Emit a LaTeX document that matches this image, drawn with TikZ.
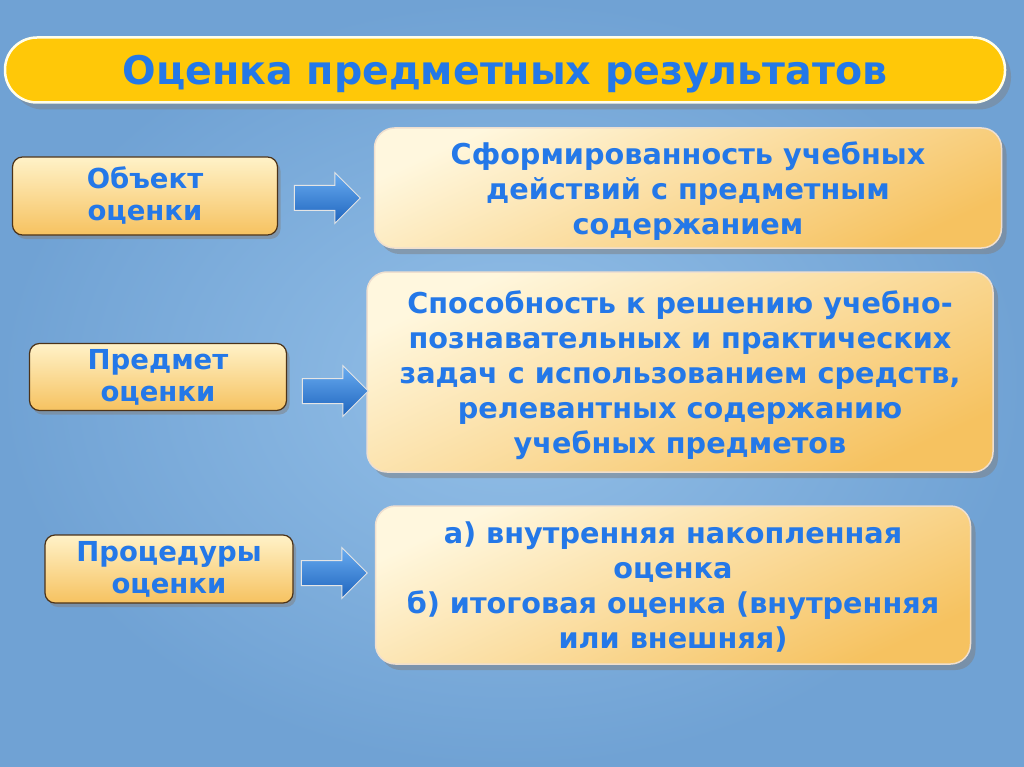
\documentclass[tikz,border=0pt]{standalone}
\usepackage{fontspec}
\setmainfont{DejaVu Sans}
\usetikzlibrary{shapes.arrows,shadows}
\definecolor{txtblue}{RGB}{36,120,232}
\definecolor{bgblue}{RGB}{112,162,212}
\definecolor{bglight}{RGB}{148,192,232}
\definecolor{gold}{RGB}{255,200,8}
\definecolor{boxtop}{RGB}{255,242,200}
\definecolor{boxbot}{RGB}{246,194,96}
\definecolor{arrtop}{RGB}{105,172,240}
\definecolor{arrbot}{RGB}{30,100,190}
\begin{document}
\begin{tikzpicture}[x=1pt,y=-1pt,
  every node/.style={font=\bfseries\fontsize{28.7}{35}\selectfont,text=txtblue,align=center,inner sep=0pt},
  titlebar/.style={rounded corners=32pt,fill=gold,draw=white!92!yellow,line width=2.5pt,text depth=0pt,
    drop shadow={shadow xshift=6pt,shadow yshift=-7pt,opacity=0.45},font=\bfseries\fontsize{39.5}{42}\selectfont},
  leftbox/.style={rounded corners=10pt,draw=black!60!brown,line width=1.2pt,top color=boxtop,bottom color=boxbot,
    drop shadow={shadow xshift=3pt,shadow yshift=-4pt,opacity=0.5},font=\bfseries\fontsize{27.5}{32}\selectfont},
  rightbox/.style={rounded corners=20pt,draw=white!75!brown,line width=1.5pt,top color=boxtop!60!white,bottom color=boxbot,
    shading angle=25,drop shadow={shadow xshift=5pt,shadow yshift=-6pt,opacity=0.5},text depth=-3pt},
  arrowblk/.style={single arrow,single arrow head extend=13pt,minimum height=66pt,inner ysep=12pt,
    top color=arrtop,bottom color=arrbot,draw=white!80!gray,line width=1pt}]
\useasboundingbox (0,0) rectangle (1024,767);
\shade[inner color=bglight,outer color=bgblue] (0,0) rectangle (1024,767);

\node[titlebar,minimum width=1000pt,minimum height=65pt] (t) at (505,70) {Оценка предметных результатов};

\node[leftbox,minimum width=265pt,minimum height=78pt] (l1) at (145,196) {Объект\\оценки};
\node[leftbox,minimum width=257pt,minimum height=67pt] (l2) at (158,377) {Предмет\\оценки};
\node[leftbox,minimum width=248pt,minimum height=68pt] (l3) at (169,569) {Процедуры\\оценки};

\node[rightbox,minimum width=627pt,minimum height=120pt] (r1) at (688,188) {Сформированность учебных\\действий с предметным\\содержанием};
\node[rightbox,minimum width=626pt,minimum height=200pt] (r2) at (680,372) {Способность к решению учебно-\\познавательных и практических\\задач с использованием средств,\\релевантных содержанию\\учебных предметов};
\node[rightbox,minimum width=595pt,minimum height=158pt] (r3) at (673,585) {а) внутренняя накопленная\\оценка\\б) итоговая оценка (внутренняя\\или внешняя)};

\node[arrowblk] (a1) at (321,198) {};
\node[arrowblk] (a2) at (329,391) {};
\node[arrowblk] (a3) at (328,573) {};
\end{tikzpicture}
\end{document}
